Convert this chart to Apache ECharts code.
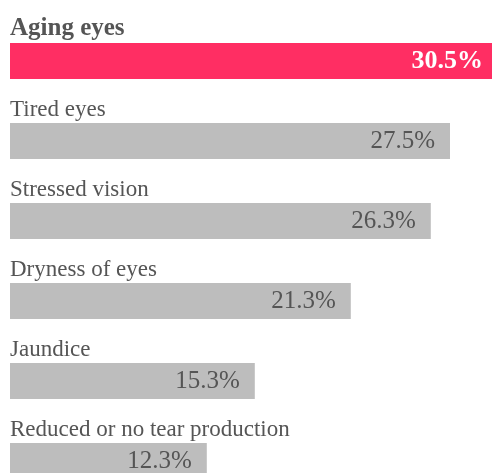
<!DOCTYPE html>
<html>
<head>
<meta charset="utf-8">
<script src="https://cdn.jsdelivr.net/npm/echarts@6/dist/echarts.min.js"></script>
<style>html,body{margin:0;padding:0;background:#fff;}#c{width:492px;height:473px;}</style>
</head>
<body>
<div id="c"></div>
<script>
var categories = ["Aging eyes", "Tired eyes", "Stressed vision", "Dryness of eyes", "Jaundice", "Reduced or no tear production"];
var values = [30.5, 27.5, 26.3, 21.3, 15.3, 12.3];
var highlightIndex = 0;

var chart = echarts.init(document.getElementById('c'), null, {renderer: 'canvas'});
var font = '"Liberation Serif", "Times New Roman", serif';
chart.setOption({
  animation: false,
  backgroundColor: '#ffffff',
  grid: {left: 10, width: 488, top: 21, height: 480, containLabel: false, outerBoundsMode: 'none'},
  xAxis: {type: 'value', min: 0, max: 30.5, show: false},
  yAxis: {
    type: 'category', data: categories, inverse: true,
    axisLine: {show: false}, axisTick: {show: false}, splitLine: {show: false},
    axisLabel: {
      inside: true, margin: 0, align: 'left', verticalAlign: 'bottom',
      padding: [0, 0, 20, 0],
      formatter: function (v, i) { return i === highlightIndex ? '{b|' + v + '}' : '{n|' + v + '}'; },
      rich: {
        b: {fontFamily: font, fontSize: 25, fontWeight: 'bold', color: '#555555', lineHeight: 24},
        n: {fontFamily: font, fontSize: 23, color: '#555555', lineHeight: 22}
      }
    },
    z: 10
  },
  series: [{
    type: 'bar',
    barWidth: 36,
    data: values.map(function (v, i) {
      return {
        value: v,
        itemStyle: {color: i === highlightIndex ? '#ff2e63' : '#bdbdbd'},
        label: i === highlightIndex ? {color: '#ffffff', fontWeight: 'bold', fontSize: 26} : {}
      };
    }),
    label: {
      show: true, position: 'insideRight', distance: 15,
      fontFamily: font, fontSize: 25, color: '#555555',
      formatter: function (p) { return p.value.toFixed(1) + '%'; }
    }
  }]
});
</script>
</body>
</html>
